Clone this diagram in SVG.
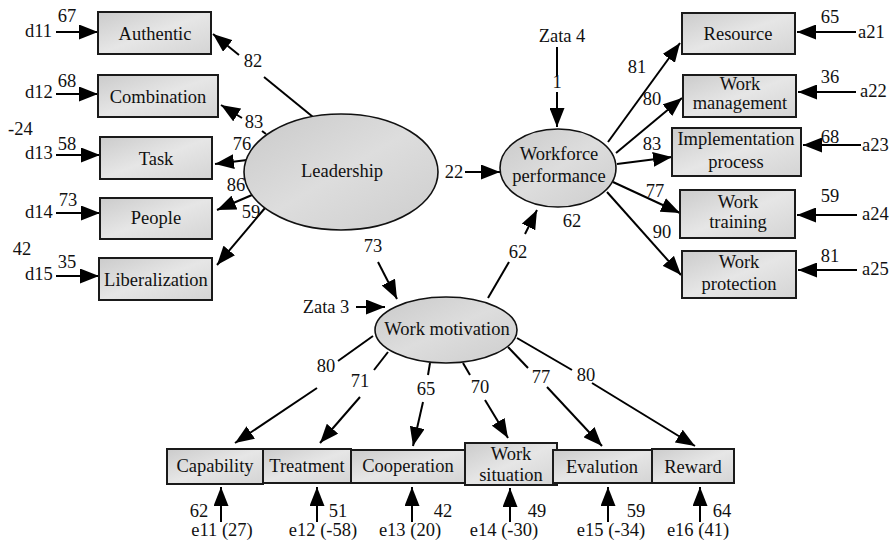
<svg xmlns="http://www.w3.org/2000/svg" width="894" height="545" viewBox="0 0 894 545">
<defs>
<linearGradient id="gb" x1="0" y1="0" x2="1" y2="1">
<stop offset="0" stop-color="#cbcbcb"/><stop offset="0.5" stop-color="#e6e6e6"/><stop offset="1" stop-color="#d4d4d4"/>
</linearGradient>
<linearGradient id="ge" x1="0" y1="0" x2="1" y2="1">
<stop offset="0" stop-color="#c9c9c9"/><stop offset="0.5" stop-color="#dddddd"/><stop offset="1" stop-color="#cdcdcd"/>
</linearGradient>
<marker id="ah" markerUnits="userSpaceOnUse" markerWidth="19" markerHeight="15" refX="19" refY="7.5" orient="auto">
<path d="M0,0 L19,7.5 L0,15 z" fill="#000"/>
</marker>
</defs>
<style>
.box{fill:url(#gb);stroke:#1a1a1a;stroke-width:2}
.ell{fill:url(#ge);stroke:#111;stroke-width:1.6}
text{font-family:'Liberation Serif','DejaVu Serif',serif;font-size:18.5px;fill:#111}
.c{text-anchor:middle}
.conn line{stroke:#000;stroke-width:2}
.a{marker-end:url(#ah)}
</style>
<rect width="894" height="545" fill="#fff"/>

<g class="conn">
<line class="a" x1="56" y1="32" x2="98" y2="32"/>
<line class="a" x1="56" y1="94" x2="98" y2="94"/>
<line class="a" x1="56" y1="155" x2="100" y2="155"/>
<line class="a" x1="56" y1="213" x2="100" y2="213"/>
<line class="a" x1="56" y1="276" x2="99" y2="276"/>
<line x1="313" y1="117" x2="264" y2="77"/>
<line class="a" x1="239" y1="55" x2="213" y2="34"/>
<line x1="262" y1="131" x2="266" y2="134"/>
<line class="a" x1="242" y1="118" x2="221" y2="105"/>
<line class="a" x1="247" y1="160" x2="215" y2="164"/>
<line class="a" x1="252" y1="195" x2="217" y2="210"/>
<line class="a" x1="265" y1="208" x2="217" y2="265"/>
<line class="a" x1="465" y1="172" x2="500" y2="172"/>
<line x1="557" y1="47" x2="557" y2="76"/>
<line class="a" x1="557" y1="92" x2="557" y2="127"/>
<line class="a" x1="608" y1="142" x2="680" y2="43"/>
<line class="a" x1="616" y1="153" x2="682" y2="98"/>
<line class="a" x1="617" y1="164" x2="672" y2="157"/>
<line class="a" x1="613" y1="182" x2="680" y2="213"/>
<line class="a" x1="607" y1="192" x2="681" y2="275"/>
<line class="a" x1="856" y1="32" x2="797" y2="32"/>
<line class="a" x1="856" y1="92" x2="798" y2="92"/>
<line class="a" x1="861" y1="145" x2="803" y2="145"/>
<line class="a" x1="857" y1="215" x2="797" y2="215"/>
<line class="a" x1="857" y1="270" x2="798" y2="270"/>
<line class="a" x1="378" y1="262" x2="397" y2="299"/>
<line class="a" x1="356" y1="307" x2="385" y2="307"/>
<line x1="488" y1="298" x2="509" y2="262"/>
<line class="a" x1="525" y1="234" x2="537" y2="210"/>
<line x1="373" y1="336" x2="338" y2="361"/>
<line class="a" x1="317" y1="388" x2="235" y2="443"/>
<line x1="388" y1="352" x2="374" y2="370"/>
<line class="a" x1="360" y1="397" x2="320" y2="443"/>
<line x1="430" y1="363" x2="428" y2="375"/>
<line class="a" x1="423" y1="402" x2="413" y2="446"/>
<line x1="463" y1="363" x2="470" y2="375"/>
<line class="a" x1="485" y1="400" x2="508" y2="438"/>
<line x1="508" y1="347" x2="528" y2="368"/>
<line class="a" x1="547" y1="387" x2="602" y2="446"/>
<line x1="517" y1="338" x2="572" y2="370"/>
<line class="a" x1="592" y1="383" x2="695" y2="446"/>
<line class="a" x1="221" y1="522" x2="221" y2="487"/>
<line class="a" x1="317" y1="522" x2="317" y2="487"/>
<line class="a" x1="412" y1="522" x2="412" y2="487"/>
<line class="a" x1="510" y1="522" x2="510" y2="488"/>
<line class="a" x1="608" y1="522" x2="608" y2="487"/>
<line class="a" x1="700" y1="522" x2="700" y2="487"/>
</g>

<g font-family="'Liberation Serif','DejaVu Serif',serif">
<g id="leadership">
<ellipse class="ell" cx="341" cy="172" rx="97" ry="58"/>
<text class="c" x="342" y="177">Leadership</text>
</g>
<g id="workforce">
<ellipse class="ell" cx="558" cy="168" rx="58" ry="39"/>
<text class="c" x="559" y="160">Workforce</text>
<text class="c" x="559" y="182">performance</text>
</g>
<g id="motivation">
<ellipse class="ell" cx="446" cy="330" rx="71" ry="33"/>
<text class="c" x="447" y="335">Work motivation</text>
</g>

<g id="authentic"><rect class="box" x="98" y="12" width="113" height="42"/><text class="c" x="155" y="40">Authentic</text></g>
<g id="combination"><rect class="box" x="98" y="75" width="120" height="42"/><text class="c" x="158" y="103">Combination</text></g>
<g id="task"><rect class="box" x="100" y="137" width="112" height="42"/><text class="c" x="156" y="165">Task</text></g>
<g id="people"><rect class="box" x="100" y="198" width="112" height="41"/><text class="c" x="156" y="224">People</text></g>
<g id="liberalization"><rect class="box" x="99" y="258" width="113" height="42"/><text class="c" x="156" y="286">Liberalization</text></g>

<g id="resource"><rect class="box" x="682" y="13" width="113" height="41"/><text class="c" x="738" y="40">Resource</text></g>
<g id="work-management"><rect class="box" x="683" y="75" width="113" height="42"/><text class="c" x="740" y="90">Work</text><text class="c" x="740" y="109">management</text></g>
<g id="implementation"><rect class="box" x="672" y="128" width="129" height="48"/><text class="c" x="736" y="145">Implementation</text><text class="c" x="736" y="168">process</text></g>
<g id="work-training"><rect class="box" x="680" y="190" width="115" height="48"/><text class="c" x="738" y="208">Work</text><text class="c" x="738" y="228">training</text></g>
<g id="work-protection"><rect class="box" x="682" y="251" width="114" height="47"/><text class="c" x="739" y="268">Work</text><text class="c" x="739" y="290">protection</text></g>

<g id="capability"><rect class="box" x="167" y="449" width="96" height="35"/><text class="c" x="215" y="472">Capability</text></g>
<g id="treatment"><rect class="box" x="263" y="449" width="88" height="34"/><text class="c" x="307" y="472">Treatment</text></g>
<g id="cooperation"><rect class="box" x="351" y="450" width="114" height="33"/><text class="c" x="408" y="472">Cooperation</text></g>
<g id="work-situation"><rect class="box" x="465" y="443" width="92" height="42"/><text class="c" x="511" y="460">Work</text><text class="c" x="511" y="481">situation</text></g>
<g id="evalution"><rect class="box" x="553" y="450" width="99" height="33"/><text class="c" x="602" y="473">Evalution</text></g>
<g id="reward"><rect class="box" x="652" y="449" width="82" height="34"/><text class="c" x="693" y="473">Reward</text></g>

<g id="labels">
<text x="25" y="37">d11</text><text class="c" x="67" y="22">67</text>
<text x="25" y="98">d12</text><text class="c" x="67" y="87">68</text>
<text x="8" y="135">-24</text>
<text x="25" y="159">d13</text><text class="c" x="67" y="150">58</text>
<text x="25" y="218">d14</text><text class="c" x="68" y="206">73</text>
<text class="c" x="22" y="255">42</text>
<text x="25" y="280">d15</text><text class="c" x="67" y="268">35</text>
<text class="c" x="253" y="67">82</text>
<text class="c" x="254" y="128">83</text>
<text class="c" x="242" y="150">76</text>
<text class="c" x="236" y="191">86</text>
<text class="c" x="251" y="218">59</text>
<text class="c" x="454" y="178">22</text>
<text class="c" x="562" y="42">Zata 4</text>
<text class="c" x="557" y="88">1</text>
<text class="c" x="572" y="227">62</text>
<text class="c" x="637" y="73">81</text>
<text class="c" x="652" y="105">80</text>
<text class="c" x="652" y="150">83</text>
<text class="c" x="655" y="197">77</text>
<text class="c" x="662" y="238">90</text>
<text class="c" x="830" y="23">65</text><text x="858" y="38">a21</text>
<text class="c" x="830" y="83">36</text><text x="860" y="97">a22</text>
<text class="c" x="830" y="143">68</text><text x="862" y="151">a23</text>
<text class="c" x="830" y="202">59</text><text x="862" y="220">a24</text>
<text class="c" x="830" y="262">81</text><text x="862" y="275">a25</text>
<text class="c" x="373" y="252">73</text>
<text class="c" x="326" y="313">Zata 3</text>
<text class="c" x="518" y="258">62</text>
<text class="c" x="326" y="372">80</text>
<text class="c" x="360" y="387">71</text>
<text class="c" x="426" y="395">65</text>
<text class="c" x="480" y="393">70</text>
<text class="c" x="541" y="383">77</text>
<text class="c" x="586" y="381">80</text>
<text class="c" x="199" y="517">62</text><text class="c" x="222" y="536">e11 (27)</text>
<text class="c" x="338" y="517">51</text><text class="c" x="323" y="536">e12 (-58)</text>
<text class="c" x="443" y="517">42</text><text class="c" x="410" y="536">e13 (20)</text>
<text class="c" x="537" y="517">49</text><text class="c" x="504" y="536">e14 (-30)</text>
<text class="c" x="636" y="517">59</text><text class="c" x="611" y="536">e15 (-34)</text>
<text class="c" x="722" y="517">64</text><text class="c" x="698" y="536">e16 (41)</text>
</g>
</g>
</svg>
